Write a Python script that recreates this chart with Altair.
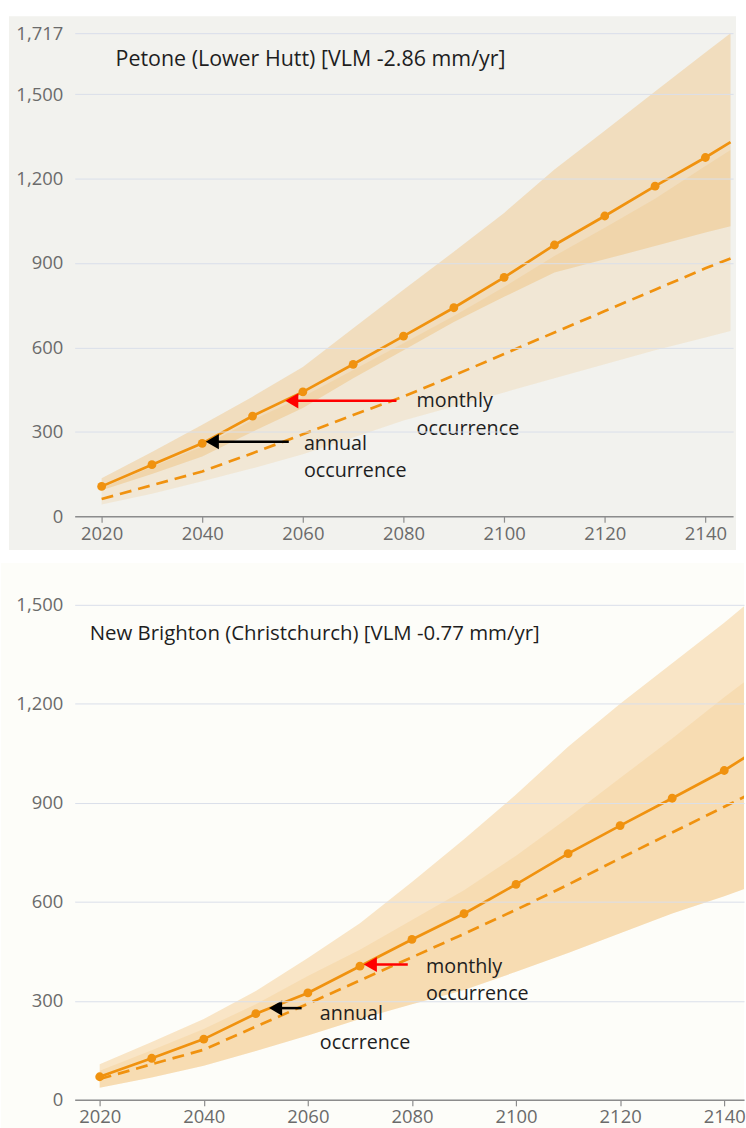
import altair as alt
import pandas as pd

# ---------------- Petone (Lower Hutt) ----------------
years_pet = [2020, 2030, 2040, 2050, 2060, 2070, 2080, 2090, 2100, 2110, 2120, 2130, 2140, 2145]
rslr_pet = [106, 183, 259, 356, 442, 540, 640, 741, 849, 964, 1067, 1173, 1275, 1330]
slr_pet = [61, 110, 159, 224, 291, 360, 425, 500, 577, 653, 729, 805, 881, 916]
rslr_hi_pet = [135, 228, 325, 425, 530, 668, 805, 940, 1078, 1232, 1370, 1510, 1648, 1717]
rslr_lo_pet = [92, 150, 212, 300, 385, 490, 590, 690, 780, 866, 913, 960, 1008, 1031]
slr_hi_pet = [100, 175, 248, 342, 425, 520, 615, 712, 815, 925, 1025, 1128, 1245, 1302]
slr_lo_pet = [42, 80, 124, 170, 220, 280, 340, 390, 440, 490, 540, 590, 635, 658]

# ---------------- New Brighton (Christchurch) ----------------
years_nb = [2020, 2030, 2040, 2050, 2060, 2070, 2080, 2090, 2100, 2110, 2120, 2130, 2140, 2145]
rslr_nb = [70, 126, 184, 261, 324, 405, 486, 564, 653, 746, 831, 914, 998, 1048]
slr_nb = [63, 108, 152, 222, 291, 362, 432, 503, 576, 652, 732, 810, 888, 927]
rslr_hi_nb = [108, 175, 245, 330, 430, 535, 660, 790, 925, 1070, 1200, 1323, 1446, 1511]
rslr_lo_nb = [37, 68, 103, 148, 195, 245, 290, 333, 388, 445, 505, 565, 617, 645]
slr_hi_nb = [88, 150, 215, 290, 375, 455, 545, 635, 740, 855, 975, 1095, 1220, 1280]
slr_lo_nb = [37, 68, 103, 148, 195, 245, 290, 333, 388, 445, 505, 565, 617, 645]

# annotation arrows: [tip year, tail year, level mm]
arrow_annual_pet = [2040.6, 2057.2, 265]
arrow_monthly_pet = [2056.4, 2078.6, 410]
arrow_annual_nb = [2052.4, 2058.8, 278]
arrow_monthly_nb = [2070.6, 2079.2, 410]

# annotation labels: (year, mm, text)
labels_pet = [(2060.2, 255, "annual"), (2060.2, 159, "occurrence"),
              (2082.6, 410, "monthly"), (2082.6, 311, "occurrence")]
labels_nb = [(2062.3, 259, "annual"), (2062.3, 173, "occrrence"),
             (2082.7, 402, "monthly"), (2082.7, 320, "occurrence")]

ORANGE = "#f0920f"
BAND = "#f0a030"
FONT = "Open Sans"
TXT = "#1e1e1e"


def panel(years, rslr, slr, rslr_lo, rslr_hi, slr_lo, slr_hi,
          arrows, labels, title, x_domain, y_domain, y_ticks,
          width, height, bg, bg_box, title_pos, title_size):
    df = pd.DataFrame({
        "year": years, "rslr": rslr, "slr": slr,
        "rslr_lo": rslr_lo, "rslr_hi": rslr_hi,
        "slr_lo": slr_lo, "slr_hi": slr_hi,
    })
    base = alt.Chart(df)

    x = alt.X("year:Q",
              scale=alt.Scale(domain=x_domain, nice=False, zero=False),
              axis=alt.Axis(values=list(range(2020, 2141, 20)), format="d",
                            title=None, grid=False, domainColor="#8c8c8c",
                            domainWidth=1.5, tickColor="#8c8c8c", tickSize=6,
                            tickWidth=1.2, labelColor="#6b6b6b", labelFont=FONT,
                            labelFontSize=18.5, labelPadding=2, zindex=1))
    yscale = alt.Scale(domain=y_domain, nice=False, zero=True)
    y_axis = alt.Axis(values=y_ticks, format=",d", title=None, domain=False,
                      ticks=False, grid=True, gridColor="#dadfea", gridWidth=1,
                      labelColor="#6b6b6b", labelFont=FONT, labelFontSize=18.5,
                      labelPadding=12, zindex=1)

    x0, x1, y0, y1 = bg_box
    backdrop = alt.Chart(pd.DataFrame({"k": [0]})).mark_rect(color=bg).encode(
        x=alt.value(x0), x2=alt.value(x1), y=alt.value(y0), y2=alt.value(y1))

    band_r = base.mark_area(color=BAND, opacity=0.25, clip=True).encode(
        x=x, y=alt.Y("rslr_lo:Q", scale=yscale, axis=y_axis), y2="rslr_hi:Q")
    band_s = base.mark_area(color=BAND, opacity=0.13, clip=True).encode(
        x="year:Q", y="slr_lo:Q", y2="slr_hi:Q")
    dashed = base.mark_line(color=ORANGE, strokeWidth=2.7, strokeDash=[12, 7],
                            clip=True).encode(x="year:Q", y="slr:Q")
    solid = base.mark_line(color=ORANGE, strokeWidth=2.7, clip=True).encode(
        x="year:Q", y="rslr:Q")
    dots = base.transform_filter("datum.year % 10 == 0").mark_circle(
        color=ORANGE, size=78, opacity=1).encode(x="year:Q", y="rslr:Q")

    arrow_df = pd.DataFrame({
        "tip": [arrows[0][0], arrows[1][0]],
        "tail": [arrows[0][1], arrows[1][1]],
        "lvl": [arrows[0][2], arrows[1][2]],
        "kind": ["annual", "monthly"],
    })
    arrow_color = alt.Color("kind:N", scale=alt.Scale(
        domain=["annual", "monthly"], range=["#000000", "#ff0000"]), legend=None)
    shafts = alt.Chart(arrow_df).transform_calculate(
        start="datum.tip + 1.8").mark_rule(strokeWidth=2.5).encode(
        x="start:Q", x2="tail:Q", y="lvl:Q", color=arrow_color)
    heads = alt.Chart(arrow_df).transform_calculate(
        hx="datum.tip + 1.4").mark_point(
        shape="triangle-left", filled=True, size=230, opacity=1).encode(
        x="hx:Q", y="lvl:Q", color=arrow_color)

    lab_df = pd.DataFrame(labels, columns=["year", "mm", "text"])
    notes = alt.Chart(lab_df).mark_text(
        align="left", baseline="middle", font=FONT, fontSize=19.8, color=TXT
    ).encode(x="year:Q", y="mm:Q", text="text:N")

    heading = alt.Chart(pd.DataFrame({"t": [title]})).mark_text(
        align="left", baseline="middle", font=FONT, fontSize=title_size, color=TXT
    ).encode(x=alt.value(title_pos[0]), y=alt.value(title_pos[1]), text="t:N")

    return alt.layer(backdrop, band_r, band_s, dashed, solid, dots,
                     shafts, heads, notes, heading).properties(
        width=width, height=height)


top = panel(years_pet, rslr_pet, slr_pet, rslr_lo_pet, rslr_hi_pet,
            slr_lo_pet, slr_hi_pet,
            [arrow_annual_pet, arrow_monthly_pet], labels_pet,
            "Petone (Lower Hutt) [VLM -2.86 mm/yr]",
            [2014.65, 2145.5], [0, 1717], [0, 300, 600, 900, 1200, 1500, 1717],
            661, 485, "#f2f2ee", (-66, 664, -17, 519), (41, 27), 21.5)

bottom = panel(years_nb, rslr_nb, slr_nb, rslr_lo_nb, rslr_hi_nb,
               slr_lo_nb, slr_hi_nb,
               [arrow_annual_nb, arrow_monthly_nb], labels_nb,
               "New Brighton (Christchurch) [VLM -0.77 mm/yr]",
               [2015.2, 2143.8], [0, 1500], [0, 300, 600, 900, 1200, 1500],
               672, 497, "#fdfdf9", (-74, 672, -42, 526), (15, 29), 20.5)

chart = alt.vconcat(top, bottom, spacing=11).resolve_scale(
    x="independent", y="independent", color="independent"
).properties(
    padding={"left": 0, "top": 13, "right": 0, "bottom": 0},
    background="#ffffff",
).configure_view(stroke="transparent")

chart.save("out.html", embed_options={"renderer": "svg", "actions": False})
